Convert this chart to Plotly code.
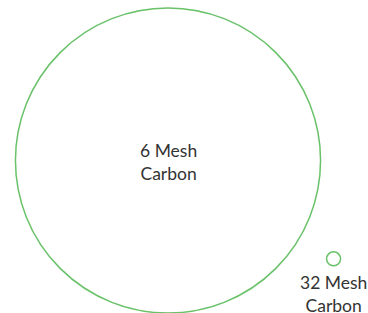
import math
import plotly.graph_objects as go

categories = ["6 Mesh Carbon", "32 Mesh Carbon"]
values = [1900, 4]
labels = ["6 Mesh<br>Carbon", "32 Mesh<br>Carbon"]

W, H = 368, 313
scale = 7.0  # pixel diameter per sqrt(value)
diam = [scale * math.sqrt(v) for v in values]
rad = [d / 2 for d in diam]

# simple bubble layout: first bubble near centre, second placed beside it
cx0, cy0 = 168, 160.5
gap = 33
ang = math.radians(30.7)
dist = rad[0] + rad[1] + gap
xs = [cx0, cx0 + dist * math.cos(ang)]
ys = [cy0, cy0 + dist * math.sin(ang)]

fig = go.Figure()
fig.add_trace(go.Scatter(
    x=xs, y=ys, mode="markers", cliponaxis=False,
    marker=dict(size=diam, sizemode="diameter", color="rgba(0,0,0,0)",
                line=dict(color="#2aa82a", width=1.5)),
    hoverinfo="text", text=categories, showlegend=False,
))

font = dict(family="Lato, Open Sans, sans-serif", size=17.5, color="#333333")
fig.add_annotation(x=xs[0], y=ys[0] + 1, text=labels[0], showarrow=False,
                   font=font, xanchor="center", yanchor="middle")
fig.add_annotation(x=xs[1], y=ys[1] + rad[1] + 4, text=labels[1], showarrow=False,
                   font=font, xanchor="center", yanchor="top")

fig.update_layout(
    width=W, height=H, margin=dict(l=0, r=0, t=0, b=0),
    paper_bgcolor="white", plot_bgcolor="white",
    xaxis=dict(range=[0, W], visible=False, fixedrange=True),
    yaxis=dict(range=[H, 0], visible=False, fixedrange=True),
)
fig.write_html(
    "out.html",
    config={"displayModeBar": False},
    post_script="document.body.style.margin='0';document.body.style.overflow='hidden';",
)
